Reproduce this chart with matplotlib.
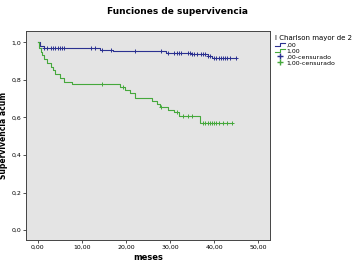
import matplotlib.pyplot as plt
from matplotlib.lines import Line2D
from matplotlib.legend_handler import HandlerBase
import numpy as np

# Kaplan-Meier curves (time in months, cumulative survival)
blue_t = [0, 0.5, 1.5, 14, 17, 29, 35, 38.5, 39.5, 45]
blue_s = [1.0, 0.98, 0.968, 0.96, 0.952, 0.944, 0.94, 0.925, 0.915, 0.915]
blue_cens = [1.5, 2, 3, 3.5, 4, 4.5, 5, 5.5, 6, 12, 13, 14.5, 16.5, 22, 28, 29.5,
             31, 31.5, 32, 32.5, 34, 34.5, 35, 35.5, 36, 37, 37.5, 38, 38.5, 39,
             40, 40.5, 41, 41.5, 42, 42.5, 43, 43.5, 45]

green_t = [0, 0.3, 0.7, 1, 1.5, 2, 3, 3.5, 4, 5, 6, 7.7, 18.6, 19.8, 21, 22, 26,
           27, 27.7, 29.5, 31, 32, 36.8, 44]
green_s = [1.0, 0.97, 0.95, 0.93, 0.91, 0.89, 0.87, 0.85, 0.83, 0.81, 0.79, 0.78,
           0.762, 0.745, 0.73, 0.705, 0.685, 0.67, 0.655, 0.64, 0.628, 0.61, 0.572, 0.572]
green_cens = [14.5, 19.4, 28, 31.5, 33, 34, 35, 37.5, 38, 38.5, 39, 39.5, 40,
              40.5, 41, 42, 43, 44]

xticks = [0, 10, 20, 30, 40, 50]
yticks = [0.0, 0.2, 0.4, 0.6, 0.8, 1.0]

blue = '#2b3190'
green = '#45a83c'


def step_value(t, s, x):
    i = np.searchsorted(t, x, side='right') - 1
    return np.array(s)[i]


class StepHandler(HandlerBase):
    # little step glyph like SPSS uses for the curves
    def create_artists(self, legend, orig, xd, yd, w, h, fs, trans):
        xs = [xd, xd + w * 0.5, xd + w * 0.5, xd + w]
        ys = [yd + h * 0.2, yd + h * 0.2, yd + h * 0.8, yd + h * 0.8]
        return [Line2D(xs, ys, color=orig.get_color(), lw=0.8, transform=trans)]


fig = plt.figure(figsize=(3.55, 2.7), dpi=100)
ax = fig.add_axes([0.073, 0.111, 0.688, 0.774])
ax.set_facecolor('#e4e4e4')

ax.step(blue_t, blue_s, where='post', color=blue, lw=0.8)
ax.step(green_t, green_s, where='post', color=green, lw=0.8)
ax.plot(blue_cens, step_value(blue_t, blue_s, blue_cens), '+', color=blue, ms=3.5, mew=0.7)
ax.plot(green_cens, step_value(green_t, green_s, green_cens), '+', color=green, ms=3.5, mew=0.7)

ax.set_xlim(-2.7, 52.7)
ax.set_ylim(-0.053, 1.06)
ax.set_xticks(xticks)
ax.set_xticklabels([('%.2f' % v).replace('.', ',') for v in xticks])
ax.set_yticks(yticks)
ax.set_yticklabels([('%.1f' % v).replace('.', ',') for v in yticks])
ax.tick_params(labelsize=4.5, length=2, width=0.6, color='#333333', pad=1.5)
for sp in ax.spines.values():
    sp.set_color('#444444')
    sp.set_linewidth(0.7)

ax.set_xlabel('meses', fontsize=6, fontweight='bold', labelpad=2)
ax.set_ylabel('Supervivencia acum', fontsize=5.5, fontweight='bold')
ax.yaxis.set_label_coords(-0.075, 0.5)
fig.suptitle('Funciones de supervivencia', fontsize=6.5, fontweight='bold', x=0.5, y=0.975)

handles = [Line2D([], [], color=blue), Line2D([], [], color=green),
           Line2D([], [], color=blue, marker='+', ls='none', ms=4),
           Line2D([], [], color=green, marker='+', ls='none', ms=4)]
labels = [',00', '1,00', ',00-censurado', '1,00-censurado']
leg = fig.legend(handles, labels, loc='upper left', bbox_to_anchor=(0.762, 0.885),
                 title='I Charlson mayor de 2', fontsize=4.5, title_fontsize=5,
                 frameon=False, handlelength=1.6, handletextpad=0.2,
                 labelspacing=0.1, borderpad=0.2,
                 handler_map={handles[0]: StepHandler(), handles[1]: StepHandler()})
leg._legend_box.align = 'left'

fig.savefig('out.png', dpi=100)
